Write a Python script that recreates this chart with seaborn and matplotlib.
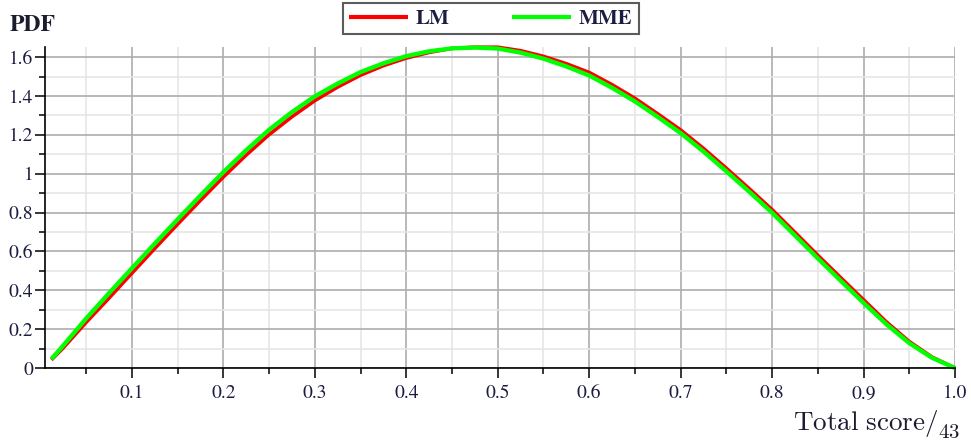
import numpy as np
import pandas as pd
import matplotlib
matplotlib.use("Agg")
import matplotlib.pyplot as plt
import seaborn as sns
from matplotlib.ticker import FixedLocator, MultipleLocator

# values
x_vals = [0.012, 0.025, 0.05, 0.075, 0.1, 0.125, 0.15, 0.175, 0.2, 0.225, 0.25,
          0.275, 0.3, 0.325, 0.35, 0.375, 0.4, 0.425, 0.45, 0.475, 0.5, 0.525,
          0.55, 0.575, 0.6, 0.625, 0.65, 0.675, 0.7, 0.725, 0.75, 0.775, 0.8,
          0.825, 0.85, 0.875, 0.9, 0.925, 0.95, 0.975, 1.0]
lm_vals = [0.042, 0.104, 0.235, 0.360, 0.488, 0.615, 0.740, 0.863, 0.983, 1.096, 1.201,
           1.293, 1.376, 1.446, 1.507, 1.556, 1.595, 1.624, 1.645, 1.651, 1.651, 1.633,
           1.604, 1.566, 1.521, 1.458, 1.388, 1.308, 1.225, 1.130, 1.028, 0.923, 0.815,
           0.698, 0.580, 0.465, 0.351, 0.237, 0.136, 0.056, 0.0]
mme_vals = [0.046, 0.116, 0.255, 0.385, 0.513, 0.640, 0.765, 0.888, 1.008, 1.121, 1.226,
            1.317, 1.398, 1.464, 1.523, 1.568, 1.605, 1.630, 1.645, 1.649, 1.644, 1.623,
            1.592, 1.552, 1.505, 1.442, 1.372, 1.292, 1.209, 1.114, 1.012, 0.907, 0.799,
            0.682, 0.564, 0.449, 0.335, 0.225, 0.128, 0.052, 0.0]

x_ticks = [0.1, 0.2, 0.3, 0.4, 0.5, 0.6, 0.7, 0.8, 0.9, 1.0]
x_tick_labels = ["0.1", "0.2", "0.3", "0.4", "0.5", "0.6", "0.7", "0.8", "0.9", "1.0"]
y_ticks = [0, 0.2, 0.4, 0.6, 0.8, 1.0, 1.2, 1.4, 1.6]
y_tick_labels = ["0", "0.2", "0.4", "0.6", "0.8", "1", "1.2", "1.4", "1.6"]

df = pd.DataFrame({
    "x": x_vals + x_vals,
    "pdf": lm_vals + mme_vals,
    "model": ["LM"] * len(x_vals) + ["MME"] * len(x_vals),
})

sns.set_theme(style="white")
plt.rcParams["font.family"] = ["STIXGeneral", "DejaVu Serif"]
plt.rcParams["mathtext.fontset"] = "cm"

W, H = 971, 442
fig = plt.figure(figsize=(W / 100, H / 100), dpi=100)
fig.patch.set_facecolor("white")
ax = fig.add_axes([45 / W, 1 - 368 / H, 910 / W, 321 / H])

sns.lineplot(data=df[df["model"] == "LM"], x="x", y="pdf", color="#ff0000",
             linewidth=2.6, estimator=None, ax=ax, label="LM")
sns.lineplot(data=df[df["model"] == "MME"], x="x", y="pdf", color="#00ff00",
             linewidth=3.1, estimator=None, ax=ax, label="MME")
for ln in ax.get_lines():
    ln.set_clip_on(False)
    ln.set_solid_capstyle("butt")

ax.set_xlim(0.005, 1.0)
ax.set_ylim(0, 1.652)
ax.xaxis.set_major_locator(FixedLocator(x_ticks))
ax.set_xticklabels(x_tick_labels)
ax.xaxis.set_minor_locator(MultipleLocator(0.05))
ax.yaxis.set_major_locator(FixedLocator(y_ticks))
ax.set_yticklabels(y_tick_labels)
ax.yaxis.set_minor_locator(MultipleLocator(0.1))

ax.grid(which="major", color="#adadad", linewidth=1.2)
ax.grid(which="minor", color="#e6e6e6", linewidth=1.2)
ax.set_axisbelow(True)

for s in ["top", "right"]:
    ax.spines[s].set_visible(False)
for s in ["left", "bottom"]:
    ax.spines[s].set_color("black")
    ax.spines[s].set_linewidth(1.2)

ax.tick_params(which="major", direction="out", length=7, width=1.1, color="black",
               labelsize=14, labelcolor="#1c1c40", left=True, bottom=True)
ax.tick_params(which="minor", direction="out", length=4, width=1.1, color="black",
               left=True, bottom=True)
ax.tick_params(axis="x", pad=5)
ax.tick_params(axis="y", pad=1.5)
ax.set_xlabel("")
ax.set_ylabel("")

handles, labels = ax.get_legend_handles_labels()
ax.get_legend().remove()
leg = fig.legend(handles, labels, loc="upper center", bbox_to_anchor=(491 / W, 1 - 3 / H),
                 ncol=2, frameon=True, fancybox=False, shadow=False,
                 prop=dict(family="STIXGeneral", weight="bold", size=15),
                 handlelength=2.8, columnspacing=3.0, handletextpad=0.4,
                 borderpad=0.3, borderaxespad=0, labelcolor="#1c1c40")
leg.get_frame().set_edgecolor("#333333")
leg.get_frame().set_linewidth(1.5)
for h in leg.get_lines():
    h.set_linewidth(3.0)

fig.text(10 / W, 1 - 31 / H, "PDF", fontsize=17, fontweight="bold",
         color="#1c1c30", va="baseline", ha="left")
fig.text(938 / W, 1 - 430 / H, r"$\mathrm{Total\ score}/$", fontsize=19.5,
         color="#1c1c30", va="baseline", ha="right")
fig.text(938 / W, 1 - 438 / H, r"$43$", fontsize=15,
         color="#1c1c30", va="baseline", ha="left")

fig.savefig("out.png", dpi=100, facecolor="white")
